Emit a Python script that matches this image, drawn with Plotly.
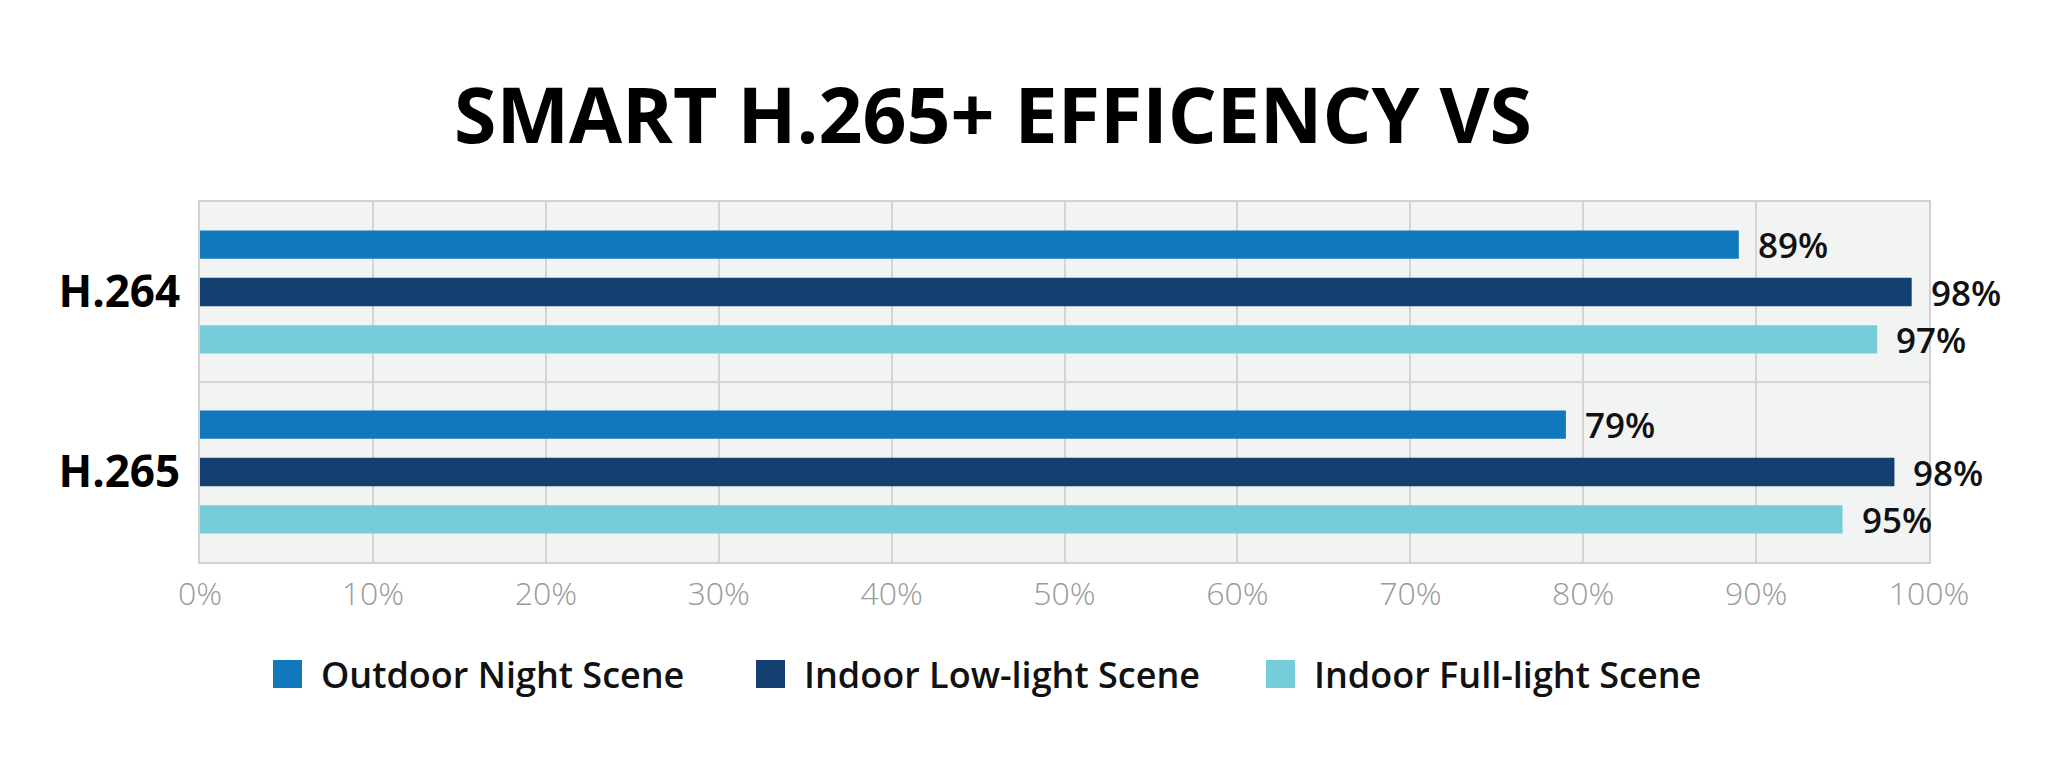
import plotly.graph_objects as go

# ---- data ----
codecs = ["H.264", "H.265"]
series_names = ["Outdoor Night Scene", "Indoor Low-light Scene", "Indoor Full-light Scene"]
outdoor_night = [89, 79]
indoor_low = [99, 98]
indoor_full = [97, 95]
label_outdoor = ["89%", "79%"]
label_low = ["98%", "98%"]
label_full = ["97%", "95%"]
x_ticks = [0, 10, 20, 30, 40, 50, 60, 70, 80, 90, 100]
x_tick_text = ["0%", "10%", "20%", "30%", "40%", "50%", "60%", "70%", "80%", "90%", "100%"]
title_text = "SMART H.265+ EFFICENCY VS"

colors = ["#1078bb", "#143f71", "#74cdd8"]
values = [outdoor_night, indoor_low, indoor_full]
labels = [label_outdoor, label_low, label_full]

W, H = 2048, 765
OFF = 8  # page body margin
# target plot area in page pixels: x 200..1929, y 202..562
L, T = 200 - OFF, 202 - OFF
R, B = W - (1929 - OFF), H - (562 - OFF)
FONT = "Open Sans"
BARGAP = 0.211

fig = go.Figure()
for name, vals, col in zip(series_names, values, colors):
    fig.add_trace(go.Bar(
        y=codecs, x=vals, name=name, orientation="h",
        marker=dict(color=col, line=dict(width=0)),
        showlegend=False, hoverinfo="skip",
    ))

# value labels placed at the end of each grouped bar
n_series = len(series_names)
slot = (1 - BARGAP) / n_series
for j, (vals, labs) in enumerate(zip(values, labels)):
    for i, (v, t) in enumerate(zip(vals, labs)):
        fig.add_annotation(x=v, y=i + (j - (n_series - 1) / 2) * slot, xref="x", yref="y",
                           text=t, showarrow=False, xanchor="left", yanchor="middle",
                           xshift=17,
                           font=dict(family=FONT, size=35, color="#111111", weight=600))

fig.update_layout(
    width=W, height=H,
    margin=dict(l=L, r=R, t=T, b=B),
    paper_bgcolor="white", plot_bgcolor="#f2f3f3",
    barmode="group", bargap=BARGAP, bargroupgap=0.4,
    title=dict(text=title_text, x=(993 - OFF) / W, xref="container", xanchor="center",
               y=1 - (116 - OFF) / H, yref="container", yanchor="middle",
               font=dict(family=FONT, size=77, color="#000000", weight=700)),
    xaxis=dict(range=[0, 100], tickvals=x_ticks, ticktext=x_tick_text,
               showgrid=True, gridcolor="#d4d4d4", gridwidth=2,
               showline=True, mirror=True, linecolor="#d2d2d2", linewidth=2,
               zeroline=False, ticks="", ticklabelstandoff=3,
               tickfont=dict(family=FONT, size=32, color="#9a9a9a", weight=300)),
    yaxis=dict(autorange="reversed", showgrid=False,
               showline=True, mirror=True, linecolor="#d2d2d2", linewidth=2,
               ticks="", ticklabelstandoff=9,
               tickfont=dict(family=FONT, size=44, color="#000000", weight=700)),
    showlegend=False,
)

# category separator line
fig.add_shape(type="line", xref="paper", x0=0, x1=1, yref="y", y0=0.5, y1=0.5,
              line=dict(color="#d4d4d4", width=2), layer="below")

# custom legend (large square swatches), positions given in page pixels
pw, ph = W - L - R, H - T - B
def px_x(p):
    return (p - OFF - L) / pw
def px_y(p):
    return (H - B - (p - OFF)) / ph

swatch_left = [273, 756, 1266]
sw, sh, cy = 29, 28, 674
for name, col, sx in zip(series_names, colors, swatch_left):
    fig.add_shape(type="rect", xref="paper", yref="paper",
                  x0=px_x(sx), x1=px_x(sx + sw), y0=px_y(cy + sh / 2), y1=px_y(cy - sh / 2),
                  fillcolor=col, line=dict(width=0))
    fig.add_annotation(xref="paper", yref="paper", x=px_x(sx + sw + 17), y=px_y(cy),
                       xanchor="left", yanchor="middle", showarrow=False, text=name,
                       font=dict(family=FONT, size=36, color="#111111", weight=600))

fig.write_html("out.html")
